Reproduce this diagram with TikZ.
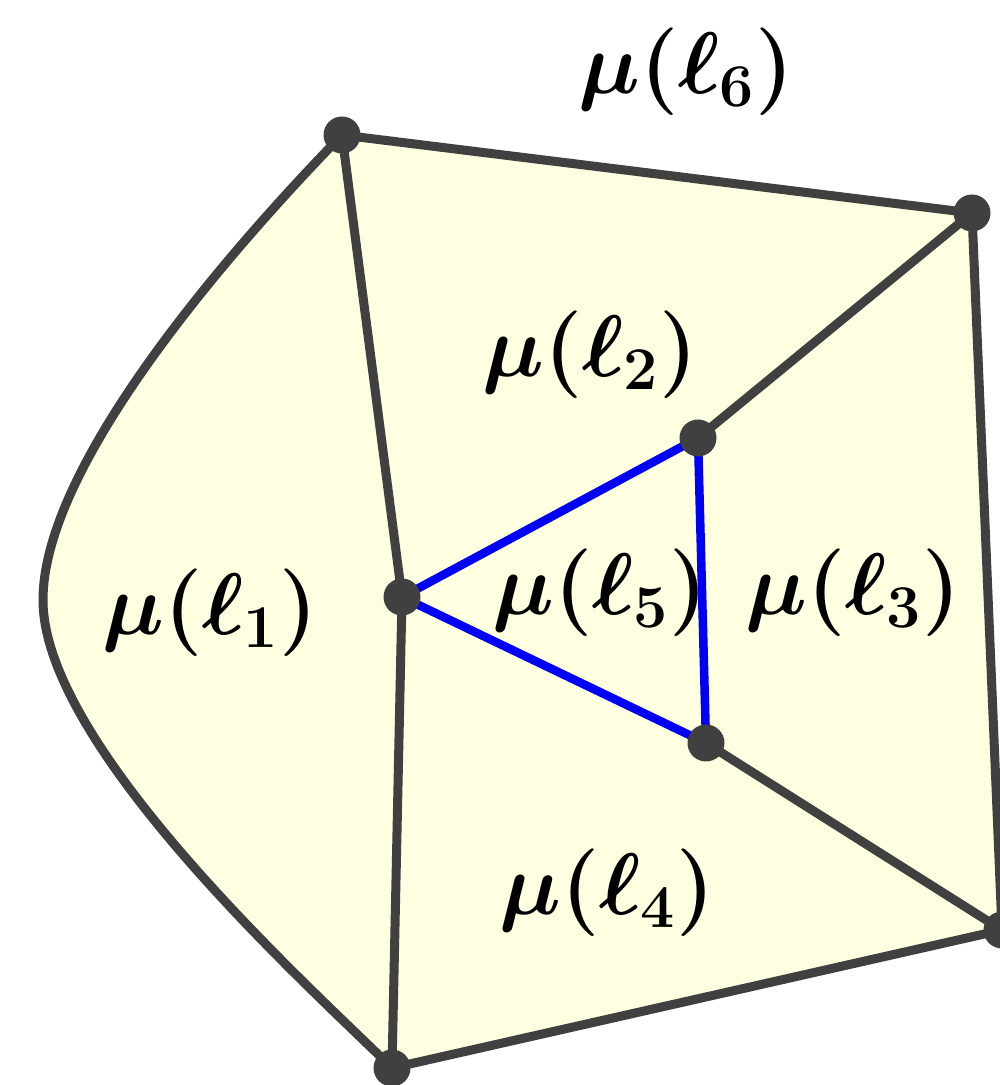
\documentclass[tikz,border=0pt]{standalone}
\usepackage{xcolor}
\usepackage{amsmath}
\usepackage{tikz}
\usetikzlibrary{arrows.meta, positioning}
\definecolor{edgegray}{RGB}{64,64,64}
\definecolor{facefill}{RGB}{254,254,224}
\definecolor{innerblue}{RGB}{0,0,245}

\begin{document}
\begin{tikzpicture}[
  vertex/.style={circle, fill=edgegray, inner sep=0pt, minimum size=0.37cm},
  edge/.style={draw=edgegray, line width=0.09cm, line join=round, line cap=round},
  blueedge/.style={draw=innerblue, line width=0.085cm, line join=round, line cap=round},
  face/.style={font=\fontsize{27}{32}\selectfont\boldmath}
]
\useasboundingbox (0,0) rectangle (10,10.85);

% Vertices
\coordinate (A) at (3.42,9.50);
\coordinate (B) at (9.72,8.72);
\coordinate (C) at (6.98,6.47);
\coordinate (D) at (4.02,4.88);
\coordinate (E) at (7.06,3.42);
\coordinate (F) at (10.02,1.55);
\coordinate (G) at (3.92,0.17);
\coordinate (M) at (0.43,4.85);

% Face
\fill[facefill] (A) -- (B) -- (F) -- (G)
  .. controls (3.21,0.88) and (0.43,3.35) .. (M)
  .. controls (0.43,6.35) and (2.72,8.78) .. (A) -- cycle;

% Outer edges
\draw[edge] (A) -- (B);
\draw[edge] (B) -- (F);
\draw[edge] (F) -- (G);
\draw[edge] (G) .. controls (3.21,0.88) and (0.43,3.35) .. (M)
  .. controls (0.43,6.35) and (2.72,8.78) .. (A);

% Inner edges
\draw[edge] (A) -- (D);
\draw[edge] (D) -- (G);
\draw[edge] (B) -- (C);
\draw[edge] (E) -- (F);

% Inner triangle
\draw[blueedge] (D) -- (C);
\draw[blueedge] (C) -- (E);
\draw[blueedge] (E) -- (D);

% Dots
\foreach \v in {A,B,C,D,E,F,G}
  \node[vertex] (dot\v) at (\v) {};

% Labels
\node[face] (l6) at (6.86,10.13) {$\mu(\ell_6)$};
\node[face] (l2) at (5.90,7.30) {$\mu(\ell_2)$};
\node[face] (l1) at (2.10,4.72) {$\mu(\ell_1)$};
\node[face] (l5) at (6.00,4.92) {$\mu(\ell_5)$};
\node[face] (l3) at (8.53,4.92) {$\mu(\ell_3)$};
\node[face] (l4) at (6.07,1.92) {$\mu(\ell_4)$};
\end{tikzpicture}
\end{document}
